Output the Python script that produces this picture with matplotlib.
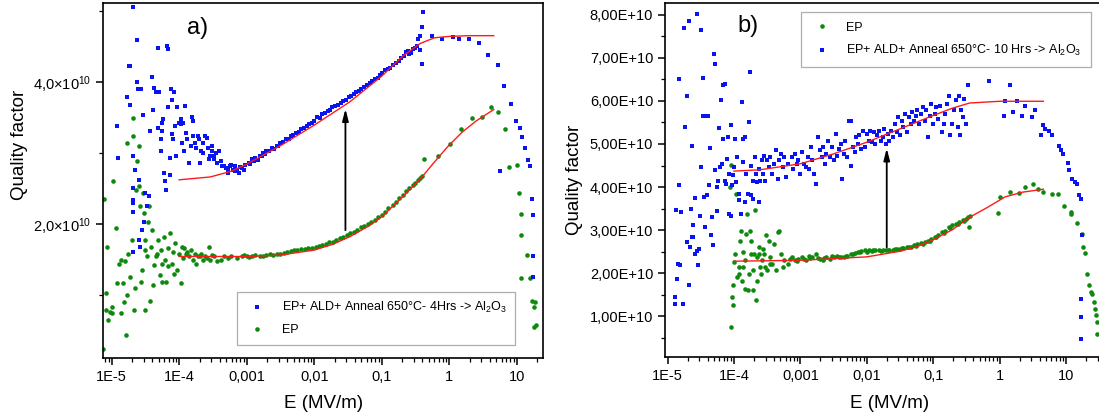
import numpy as np
import matplotlib
matplotlib.use("Agg")
import matplotlib.pyplot as plt
from matplotlib.ticker import FixedLocator, LogLocator, NullFormatter

plt.rcParams["font.family"] = ["Liberation Sans", "DejaVu Sans"]
plt.rcParams["mathtext.fontset"] = "custom"
plt.rcParams["mathtext.rm"] = "Liberation Sans"
plt.rcParams["mathtext.it"] = "Liberation Sans:italic"
plt.rcParams["mathtext.bf"] = "Liberation Sans:bold"

# -------------------------------
# Data: (log10 E [MV/m], Q / 1e10)
# -------------------------------
# panel a) EP + ALD + anneal 4 Hrs (blue squares)
a_ald = np.array([
    (-4.69, 5.05), (-4.63, 4.59), (-4.92, 3.38), (-4.90, 2.93), (-4.78, 3.79), (-4.75, 4.22),
    (-4.73, 4.22), (-4.73, 3.68), (-4.68, 2.95), (-4.66, 2.76), (-4.62, 4.00), (-4.61, 3.90),
    (-4.56, 3.90), (-4.54, 3.53), (-4.60, 2.62), (-4.68, 2.51), (-4.68, 2.34), (-4.69, 2.29),
    (-4.69, 2.17), (-4.68, 1.60), (-4.59, 1.77), (-4.58, 1.68), (-4.55, 1.92), (-4.52, 2.03),
    (-4.47, 2.25), (-4.45, 2.39), (-4.50, 2.43), (-4.43, 3.31), (-4.41, 4.07), (-4.39, 3.61),
    (-4.37, 3.92), (-4.34, 3.85), (-4.32, 4.48), (-4.30, 3.85), (-4.31, 3.35), (-4.27, 3.19),
    (-4.27, 3.02), (-4.26, 3.31), (-4.25, 3.42), (-4.24, 3.47), (-4.22, 2.72), (-4.21, 2.60),
    (-4.20, 2.48), (-4.18, 4.50), (-4.17, 4.46), (-4.16, 3.64), (-4.13, 2.93), (-4.13, 2.69),
    (-4.12, 3.90), (-4.11, 3.75), (-4.10, 3.26), (-4.09, 3.19), (-4.08, 3.85), (-4.06, 3.38),
    (-4.05, 2.95), (-4.03, 3.64), (-4.01, 3.42), (-3.98, 3.40), (-3.97, 3.47), (-3.96, 3.14),
    (-3.95, 3.42), (-3.93, 3.02), (-3.91, 3.66), (-3.90, 3.28), (-3.88, 3.19), (-3.85, 2.86),
    (-3.82, 3.09), (-3.81, 3.50), (-3.80, 3.45), (-3.79, 3.24), (-3.77, 3.14), (-3.75, 3.07),
    (-3.72, 3.24), (-3.70, 3.19), (-3.69, 2.86), (-3.67, 3.02), (-3.65, 3.00), (-3.64, 3.14),
    (-3.62, 3.24), (-3.59, 3.21), (-3.58, 3.07), (-3.56, 2.91), (-3.55, 2.95), (-3.52, 3.09),
    (-3.51, 3.02), (-3.49, 2.95), (-3.48, 2.91), (-3.46, 3.00), (-3.44, 2.86), (-3.41, 3.02),
    (-3.38, 2.88), (-3.36, 2.81), (-3.33, 2.81), (-3.31, 2.79), (-3.28, 2.72), (-3.25, 2.81),
    (-3.23, 2.83), (-3.20, 2.76), (-3.18, 2.81), (-3.15, 2.76), (-3.12, 2.72), (-3.07, 2.79),
    (-3.02, 2.83), (-2.97, 2.86), (-2.92, 2.91), (-2.87, 2.93), (-2.81, 2.95), (-2.76, 3.00),
    (-2.71, 3.02), (-2.63, 3.07), (-2.55, 3.09), (-2.50, 3.14), (-2.42, 3.19), (-2.35, 3.24),
    (-2.27, 3.28), (-2.19, 3.33), (-2.11, 3.38), (-2.04, 3.42), (-1.96, 3.50), (-1.88, 3.54),
    (-1.80, 3.59), (-1.73, 3.64), (-1.65, 3.68), (-1.57, 3.73), (-1.49, 3.78), (-1.41, 3.83),
    (-1.34, 3.87), (-1.26, 3.93), (-1.18, 3.99), (-1.10, 4.04), (-1.03, 4.09), (-0.95, 4.16),
    (-0.87, 4.20), (-0.79, 4.27), (-0.71, 4.34), (-0.64, 4.42), (-0.59, 4.39), (-0.53, 4.46),
    (-0.48, 4.51), (-0.46, 4.60), (-0.43, 4.65), (-0.41, 4.77), (-0.40, 4.25), (-0.39, 4.98),
    (-3.27, 2.77), (-3.17, 2.74), (-3.10, 2.80), (-3.04, 2.76), (-2.95, 2.84), (-2.89, 2.88),
    (-2.84, 2.90), (-2.78, 2.96), (-2.73, 2.99), (-2.67, 3.03), (-2.59, 3.05), (-2.53, 3.10),
    (-2.46, 3.15), (-2.38, 3.20), (-2.31, 3.25), (-2.23, 3.30), (-2.15, 3.35), (-2.07, 3.40),
    (-2.00, 3.45), (-1.92, 3.49), (-1.84, 3.56), (-1.76, 3.61), (-1.69, 3.66), (-1.61, 3.70),
    (-1.53, 3.75), (-1.45, 3.80), (-1.38, 3.85), (-1.30, 3.90), (-1.22, 3.96), (-1.14, 4.01),
    (-1.06, 4.06), (-0.99, 4.13), (-0.91, 4.18), (-0.83, 4.24), (-0.75, 4.30), (-0.67, 4.37),
    (-0.61, 4.43), (-0.56, 4.40), (-0.50, 4.48), (-0.44, 4.45),
    (-0.25, 4.64), (-0.11, 4.61), (0.05, 4.63), (0.14, 4.61), (0.30, 4.60), (0.44, 4.54),
    (0.57, 4.38), (0.72, 4.23), (0.81, 3.94), (0.75, 2.75), (0.91, 3.69), (0.99, 3.45),
    (1.05, 3.35), (1.08, 3.22), (1.12, 3.07), (1.17, 2.90), (1.20, 2.81), (1.23, 2.35),
    (1.24, 2.13), (1.24, 1.54), (1.24, 1.25),
])

# panel a) EP (green circles)
a_ep = np.array([
    (-5.13, 0.24), (-5.12, 2.35), (-5.09, 0.78), (-5.07, 1.68), (-5.08, 1.03), (-5.06, 0.64),
    (-5.03, 0.76), (-5.00, 0.83), (-4.99, 0.74), (-4.98, 2.61), (-4.94, 1.94), (-4.92, 1.16),
    (-4.89, 1.44), (-4.86, 1.49), (-4.86, 0.75), (-4.83, 1.17), (-4.82, 0.90), (-4.81, 1.47),
    (-4.79, 0.43), (-4.78, 3.14), (-4.77, 1.00), (-4.76, 1.58), (-4.73, 1.25), (-4.70, 1.77),
    (-4.69, 3.49), (-4.68, 3.24), (-4.67, 0.78), (-4.65, 1.09), (-4.64, 2.48), (-4.63, 2.88),
    (-4.60, 3.09), (-4.60, 2.53), (-4.58, 2.25), (-4.56, 1.18), (-4.55, 1.35), (-4.54, 2.43),
    (-4.52, 2.15), (-4.51, 1.63), (-4.50, 0.78), (-4.50, 1.77), (-4.47, 1.54), (-4.46, 2.03),
    (-4.45, 2.25), (-4.43, 0.92), (-4.42, 1.68), (-4.40, 1.92), (-4.39, 1.14), (-4.37, 1.42),
    (-4.34, 1.54), (-4.33, 1.58), (-4.32, 1.77), (-4.29, 1.28), (-4.27, 1.63), (-4.26, 1.44),
    (-4.25, 1.18), (-4.22, 1.82), (-4.21, 1.49), (-4.19, 1.18), (-4.17, 1.40), (-4.16, 1.66),
    (-4.13, 1.87), (-4.11, 1.44), (-4.09, 1.61), (-4.07, 1.30), (-4.06, 1.73), (-4.03, 1.35),
    (-4.01, 1.58), (-3.98, 1.16), (-3.96, 1.68), (-3.95, 1.52), (-3.93, 1.66), (-3.90, 1.58),
    (-3.88, 1.61), (-3.85, 1.54), (-3.82, 1.63), (-3.80, 1.49), (-3.77, 1.58), (-3.75, 1.44),
    (-3.72, 1.54), (-3.69, 1.54), (-3.67, 1.58), (-3.64, 1.49), (-3.62, 1.54), (-3.59, 1.52),
    (-3.56, 1.68), (-3.54, 1.49), (-3.51, 1.56), (-3.49, 1.54), (-3.44, 1.47), (-3.38, 1.49),
    (-3.33, 1.54), (-3.28, 1.52), (-3.23, 1.54), (-3.15, 1.52), (-3.07, 1.54), (-3.00, 1.54),
    (-2.92, 1.55), (-2.81, 1.54), (-2.71, 1.56), (-2.61, 1.56), (-2.50, 1.58), (-2.40, 1.61),
    (-2.30, 1.63), (-2.19, 1.64), (-2.09, 1.66), (-1.98, 1.67), (-1.88, 1.70), (-1.78, 1.74),
    (-1.67, 1.77), (-1.57, 1.82), (-1.47, 1.87), (-1.36, 1.92), (-1.26, 1.97), (-1.16, 2.03),
    (-1.05, 2.10), (-0.95, 2.17), (-0.84, 2.27), (-0.74, 2.36), (-0.64, 2.46), (-0.53, 2.55),
    (-0.46, 2.62), (-0.40, 2.67),
    (-3.04, 1.56), (-2.96, 1.53), (-2.87, 1.56), (-2.76, 1.55), (-2.66, 1.57), (-2.55, 1.57),
    (-2.45, 1.59), (-2.35, 1.62), (-2.25, 1.63), (-2.14, 1.65), (-2.04, 1.66), (-1.93, 1.69),
    (-1.83, 1.72), (-1.72, 1.75), (-1.62, 1.80), (-1.52, 1.84), (-1.41, 1.89), (-1.31, 1.95),
    (-1.21, 2.00), (-1.10, 2.06), (-1.00, 2.13), (-0.90, 2.22), (-0.79, 2.31), (-0.69, 2.41),
    (-0.59, 2.50), (-0.50, 2.58), (-0.43, 2.64),
    (-0.37, 2.92), (-0.17, 2.95), (0.01, 3.13), (0.17, 3.33), (0.33, 3.49), (0.48, 3.50),
    (0.62, 3.64), (0.72, 3.58), (0.82, 3.33), (0.89, 2.80), (1.00, 2.83), (1.03, 2.43),
    (1.06, 2.14), (1.07, 1.84), (1.15, 1.56), (1.06, 1.23), (1.20, 1.23), (1.23, 0.92),
    (1.25, 0.83), (1.27, 0.90), (1.25, 0.55), (1.29, 0.57),
])

# panel a) fits (red)
a_fit_ald = np.array([
    (-4.00, 2.62), (-3.54, 2.66), (-3.23, 2.74), (-3.00, 2.84), (-2.50, 3.10), (-2.00, 3.39),
    (-1.47, 3.72), (-1.00, 4.08), (-0.69, 4.36), (-0.43, 4.54), (-0.22, 4.62), (0.00, 4.64),
    (0.30, 4.65), (0.66, 4.65),
])
a_fit_ep = np.array([
    (-4.00, 1.54), (-3.00, 1.54), (-2.50, 1.56), (-2.00, 1.63), (-1.73, 1.71), (-1.47, 1.82),
    (-1.21, 1.96), (-1.00, 2.10), (-0.69, 2.38), (-0.43, 2.63), (-0.22, 2.87), (-0.02, 3.09),
    (0.19, 3.29), (0.40, 3.45), (0.66, 3.61),
])

# panel b) EP + ALD + anneal 10 Hrs (blue squares)
b_ald = np.array([
    (-4.89, 1.28), (-4.88, 1.46), (-4.86, 1.87), (-4.87, 3.46), (-4.84, 2.22), (-4.83, 6.51),
    (-4.82, 4.04), (-4.81, 2.18), (-4.79, 3.42), (-4.76, 1.29), (-4.75, 7.68), (-4.74, 5.39),
    (-4.71, 2.72), (-4.71, 6.11), (-4.68, 7.86), (-4.67, 1.72), (-4.66, 2.61), (-4.65, 3.50),
    (-4.63, 4.95), (-4.63, 2.84), (-4.62, 2.84), (-4.61, 3.11), (-4.59, 3.75), (-4.58, 2.44),
    (-4.56, 8.02), (-4.55, 2.51), (-4.54, 2.18), (-4.53, 2.57), (-4.51, 3.32), (-4.50, 4.46),
    (-4.49, 7.65), (-4.47, 6.53), (-4.46, 5.64), (-4.45, 3.77), (-4.44, 3.07), (-4.42, 5.64),
    (-4.41, 3.81), (-4.39, 5.66), (-4.37, 4.04), (-4.36, 4.91), (-4.34, 2.88), (-4.33, 3.30),
    (-4.32, 2.65), (-4.30, 7.09), (-4.29, 6.86), (-4.28, 4.40), (-4.26, 4.00), (-4.25, 3.44),
    (-4.24, 4.15), (-4.22, 5.37), (-4.21, 4.46), (-4.19, 6.01), (-4.18, 4.54), (-4.17, 5.12),
    (-4.16, 6.36), (-4.14, 6.39), (-4.13, 4.15), (-4.12, 4.08), (-4.11, 4.66), (-4.09, 5.16),
    (-4.08, 4.31), (-4.07, 3.38), (-4.05, 3.34), (-4.04, 5.45), (-4.03, 4.04), (-4.01, 4.27),
    (-4.00, 4.46), (-3.98, 5.12), (-3.97, 4.11), (-3.95, 4.69), (-3.93, 3.69), (-3.92, 3.84),
    (-3.89, 3.38), (-3.88, 5.97), (-3.87, 5.12), (-3.86, 4.58), (-3.84, 3.65), (-3.83, 5.16),
    (-3.82, 4.31), (-3.79, 3.84), (-3.77, 5.51), (-3.76, 6.66), (-3.75, 3.81), (-3.74, 4.50),
    (-3.72, 4.15), (-3.71, 3.73), (-3.68, 4.69), (-3.67, 4.31), (-3.66, 4.11), (-3.63, 4.42),
    (-3.62, 3.65), (-3.61, 4.15), (-3.58, 4.62), (-3.56, 4.31), (-3.55, 4.73), (-3.53, 4.15),
    (-3.50, 4.62), (-3.47, 4.46), (-3.45, 4.69), (-3.42, 4.31), (-3.39, 4.54), (-3.37, 4.85),
    (-3.34, 4.19), (-3.32, 4.62), (-3.29, 4.77), (-3.26, 4.46), (-3.24, 4.69), (-3.21, 4.23),
    (-3.18, 4.54), (-3.13, 4.69), (-3.11, 4.42), (-3.08, 4.77), (-3.05, 4.54), (-3.03, 4.62),
    (-3.00, 4.31), (-2.97, 4.81), (-2.95, 4.54), (-2.92, 4.46), (-2.89, 4.69), (-2.87, 4.42),
    (-2.84, 4.93), (-2.82, 4.62), (-2.79, 4.31), (-2.76, 4.08), (-2.74, 5.16), (-2.71, 4.85),
    (-2.68, 4.69), (-2.66, 4.93), (-2.63, 4.54), (-2.61, 4.77), (-2.58, 5.08), (-2.55, 4.69),
    (-2.53, 4.93), (-2.50, 4.62), (-2.47, 5.23), (-2.45, 4.73), (-2.42, 4.89), (-2.39, 5.00),
    (-2.37, 4.18), (-2.34, 4.77), (-2.32, 5.08), (-2.29, 4.69), (-2.26, 5.54), (-2.24, 4.50),
    (-2.23, 5.53), (-2.21, 4.93), (-2.18, 4.81), (-2.16, 5.16), (-2.13, 5.00), (-2.11, 5.20),
    (-2.08, 4.89), (-2.05, 5.31), (-2.03, 4.93), (-2.00, 5.23), (-1.97, 5.08), (-1.95, 5.31),
    (-1.92, 5.04), (-1.89, 5.27), (-1.87, 5.00), (-1.84, 5.20), (-1.82, 5.31), (-1.79, 5.08),
    (-1.76, 5.16), (-1.74, 5.35), (-1.71, 5.00), (-1.68, 5.23), (-1.66, 5.08), (-1.63, 5.31),
    (-1.61, 5.16), (-1.58, 5.47), (-1.55, 5.27), (-1.53, 5.62), (-1.50, 5.20), (-1.47, 5.54),
    (-1.45, 5.39), (-1.42, 5.70), (-1.39, 5.27), (-1.37, 5.62), (-1.34, 5.47), (-1.32, 5.74),
    (-1.29, 5.54), (-1.26, 5.66), (-1.24, 5.78), (-1.21, 5.47), (-1.18, 5.70), (-1.16, 5.85),
    (-1.13, 5.54), (-1.11, 5.78), (-1.08, 5.16), (-1.05, 5.66), (-1.03, 5.93), (-1.00, 5.47),
    (-0.97, 5.70), (-0.95, 5.85), (-0.92, 5.58), (-0.89, 5.89), (-0.87, 5.27), (-0.84, 5.47),
    (-0.82, 5.70), (-0.79, 5.93), (-0.76, 6.12), (-0.74, 5.20), (-0.71, 5.47), (-0.68, 5.78),
    (-0.66, 6.01), (-0.63, 5.39), (-0.61, 6.12), (-0.59, 5.20), (-0.58, 5.78), (-0.55, 5.62),
    (-0.53, 6.05), (-0.50, 5.47), (-0.47, 6.36),
    (-0.16, 6.46), (0.07, 5.66), (0.08, 5.99), (0.15, 6.36), (0.20, 5.74), (0.26, 5.99),
    (0.34, 5.66), (0.38, 5.87), (0.49, 5.62), (0.53, 5.78), (0.66, 5.45), (0.62, 5.20),
    (0.68, 5.35), (0.74, 5.31), (0.79, 5.20), (0.89, 4.95), (0.92, 4.85), (0.96, 4.77),
    (1.03, 4.56), (1.05, 4.40), (1.09, 4.19), (1.13, 4.11), (1.16, 4.08), (1.19, 3.81),
    (1.23, 3.73), (1.24, 2.88), (1.23, 1.41), (1.23, 0.98), (1.23, 0.48),
])

# panel b) EP (green circles)
b_ep = np.array([
    (-4.05, 4.52), (-4.06, 4.00), (-4.04, 0.75), (-4.03, 1.45), (-4.02, 1.26), (-4.01, 1.72),
    (-4.00, 2.26), (-3.99, 2.45), (-3.97, 3.84), (-3.95, 1.91), (-3.93, 2.14), (-3.92, 1.99),
    (-3.91, 2.76), (-3.89, 2.99), (-3.88, 1.83), (-3.87, 2.14), (-3.86, 2.49), (-3.84, 1.64),
    (-3.83, 2.30), (-3.82, 2.92), (-3.81, 3.38), (-3.79, 1.60), (-3.77, 1.99), (-3.76, 2.99),
    (-3.75, 2.45), (-3.74, 2.76), (-3.72, 1.60), (-3.71, 2.07), (-3.70, 2.45), (-3.68, 3.46),
    (-3.67, 1.37), (-3.66, 1.83), (-3.65, 2.38), (-3.63, 2.45), (-3.62, 2.61), (-3.61, 2.14),
    (-3.59, 1.99), (-3.58, 2.30), (-3.56, 2.57), (-3.55, 2.45), (-3.53, 2.14), (-3.51, 2.88),
    (-3.50, 2.07), (-3.47, 2.76), (-3.46, 2.22), (-3.45, 2.38), (-3.42, 2.22), (-3.39, 2.68),
    (-3.37, 2.07), (-3.34, 2.96), (-3.32, 2.99), (-3.29, 2.45), (-3.26, 2.14), (-3.24, 2.30),
    (-3.18, 2.22), (-3.13, 2.38), (-3.08, 2.30), (-3.03, 2.34), (-2.97, 2.38), (-2.92, 2.30),
    (-2.87, 2.41), (-2.82, 2.38), (-2.76, 2.45), (-2.71, 2.34), (-2.66, 2.30), (-2.61, 2.38),
    (-2.55, 2.34), (-2.50, 2.38), (-2.45, 2.41), (-2.39, 2.38), (-2.34, 2.38), (-2.29, 2.41),
    (-2.24, 2.44), (-2.18, 2.47), (-2.13, 2.49), (-2.08, 2.51), (-2.03, 2.53), (-1.97, 2.53),
    (-1.92, 2.51), (-1.87, 2.53), (-1.82, 2.55), (-1.76, 2.53), (-1.71, 2.53), (-1.66, 2.55),
    (-1.61, 2.55), (-1.55, 2.57), (-1.50, 2.57), (-1.45, 2.59), (-1.39, 2.61), (-1.34, 2.62),
    (-1.29, 2.65), (-1.24, 2.67), (-1.18, 2.70), (-1.13, 2.72), (-1.08, 2.76), (-1.03, 2.80),
    (-0.97, 2.84), (-0.92, 2.88), (-0.87, 2.96), (-0.82, 2.99), (-0.76, 3.07), (-0.71, 3.11),
    (-0.66, 3.15), (-0.61, 3.19), (-0.55, 3.23), (-0.50, 3.26), (-0.45, 3.34), (-0.46, 3.07),
    (-3.15, 2.33), (-3.05, 2.28), (-2.95, 2.33), (-2.85, 2.35), (-2.74, 2.36), (-2.64, 2.35),
    (-2.53, 2.39), (-2.42, 2.37), (-2.31, 2.40), (-2.21, 2.45), (-2.10, 2.50), (-2.00, 2.49),
    (-1.90, 2.53), (-1.79, 2.52), (-1.68, 2.54), (-1.58, 2.56), (-1.47, 2.58), (-1.37, 2.60),
    (-1.26, 2.63), (-1.16, 2.68), (-1.05, 2.74), (-0.95, 2.83), (-0.84, 2.93), (-0.74, 3.05),
    (-0.63, 3.14), (-0.53, 3.21), (-0.48, 3.30),
    (-0.03, 3.40), (0.00, 3.77), (0.16, 3.88), (0.30, 3.86), (0.39, 4.00), (0.50, 4.06),
    (0.58, 3.96), (0.66, 3.88), (0.79, 3.84), (0.88, 3.84), (0.97, 3.56), (1.07, 3.43),
    (1.08, 3.38), (1.16, 3.16), (1.24, 2.92), (1.26, 2.62), (1.29, 2.47), (1.32, 1.99),
    (1.34, 1.72), (1.37, 1.56), (1.39, 1.53), (1.42, 1.33), (1.44, 1.18), (1.45, 1.02),
    (1.46, 0.87), (1.47, 0.60),
])

# panel b) fits (red)
b_fit_ald = np.array([
    (-4.00, 4.37), (-3.61, 4.40), (-3.00, 4.54), (-2.50, 4.77), (-2.00, 5.04), (-1.50, 5.35),
    (-1.00, 5.66), (-0.71, 5.83), (-0.45, 5.95), (0.00, 5.99), (0.66, 5.99),
])
b_fit_ep = np.array([
    (-4.00, 2.28), (-3.00, 2.30), (-2.00, 2.38), (-1.50, 2.51), (-1.24, 2.62), (-1.00, 2.78),
    (-0.71, 3.01), (-0.45, 3.30), (-0.18, 3.53), (0.08, 3.77), (0.34, 3.88), (0.66, 3.95),
])

# arrows: (E, Q_start/1e10, Q_end/1e10)
a_arrow = (0.029, 1.91, 3.62)
b_arrow = (0.02, 2.60, 4.90)

# ticks
x_ticks = [1e-5, 1e-4, 1e-3, 1e-2, 1e-1, 1, 10]
x_tick_labels = ["1E-5", "1E-4", "0,001", "0,01", "0,1", "1", "10"]
a_yticks = [2, 4]
a_ytick_labels = ["2,0×10$^{10}$", "4,0×10$^{10}$"]
b_yticks = [1, 2, 3, 4, 5, 6, 7, 8]
b_ytick_labels = ["%d,00E+10" % v for v in b_yticks]

label_a = "EP+ ALD+ Anneal 650°C- 4Hrs -> Al$_2$O$_3$"
label_b = "EP+ ALD+ Anneal 650°C- 10 Hrs -> Al$_2$O$_3$"

BLUE = "#0a14f0"
GREEN = "#0d8a0d"
RED = "#ff1a1a"

# -------------------------------
# Figure
# -------------------------------
fig = plt.figure(figsize=(10.99, 4.18), dpi=100)
ax_a = fig.add_axes([0.0940, 0.1435, 0.4004, 0.8493])
ax_b = fig.add_axes([0.6051, 0.1452, 0.4095, 0.8476])


def style_axes(ax, xlim, ylim):
    ax.set_xscale("log")
    ax.set_xlim(*xlim)
    ax.set_ylim(*ylim)
    ax.xaxis.set_major_locator(FixedLocator(x_ticks))
    ax.set_xticklabels(x_tick_labels)
    ax.xaxis.set_minor_locator(LogLocator(base=10, subs=np.arange(2, 10), numticks=100))
    ax.xaxis.set_minor_formatter(NullFormatter())
    ax.tick_params(which="major", direction="out", length=5, width=1.1, labelsize=10.5,
                   top=False, right=False)
    ax.tick_params(which="minor", direction="out", length=3, width=0.9, top=False, right=False)
    for sp in ax.spines.values():
        sp.set_linewidth(1.2)
    ax.set_xlabel("E (MV/m)", fontsize=13.5)
    ax.set_ylabel("Quality factor", fontsize=13.5)


# ---- panel a)
ax_a.plot(10 ** a_ep[:, 0], a_ep[:, 1] * 1e10, "o", color=GREEN, ms=3.3, mew=0, label="EP")
ax_a.plot(10 ** a_ald[:, 0], a_ald[:, 1] * 1e10, "s", color=BLUE, ms=3.0, mew=0, label=label_a)
ax_a.plot(10 ** a_fit_ald[:, 0], a_fit_ald[:, 1] * 1e10, "-", color=RED, lw=1.0)
ax_a.plot(10 ** a_fit_ep[:, 0], a_fit_ep[:, 1] * 1e10, "-", color=RED, lw=1.0)
ax_a.annotate("", xy=(a_arrow[0], a_arrow[2] * 1e10), xytext=(a_arrow[0], a_arrow[1] * 1e10),
              arrowprops=dict(arrowstyle="-|>,head_width=0.18,head_length=0.7", color="black",
                              lw=1.3, shrinkA=0, shrinkB=0))
style_axes(ax_a, (10 ** -5.124, 10 ** 1.394), (0.11e10, 5.11e10))
ax_a.yaxis.set_major_locator(FixedLocator([v * 1e10 for v in a_yticks]))
ax_a.set_yticklabels(a_ytick_labels)
ax_a.yaxis.set_minor_locator(FixedLocator([1e10, 3e10, 5e10]))
ax_a.text(0.215, 0.93, "a)", transform=ax_a.transAxes, fontsize=17, ha="center", va="center")
ax_a.xaxis.set_label_coords(0.5, -0.105)
ax_a.yaxis.set_label_coords(-0.172, 0.6)

h, l = ax_a.get_legend_handles_labels()
leg = ax_a.legend([h[1], h[0]], [l[1], l[0]], loc="upper left", bbox_to_anchor=(0.303, 0.187),
                  borderaxespad=0, fontsize=9, frameon=True, fancybox=False,
                  edgecolor="#9a9a9a", handlelength=1.9, handletextpad=1.0,
                  borderpad=0.7, labelspacing=0.7, markerscale=1.0)
leg.get_frame().set_linewidth(0.9)

# ---- panel b)
ax_b.plot(10 ** b_ep[:, 0], b_ep[:, 1] * 1e10, "o", color=GREEN, ms=3.3, mew=0, label="EP")
ax_b.plot(10 ** b_ald[:, 0], b_ald[:, 1] * 1e10, "s", color=BLUE, ms=3.0, mew=0, label=label_b)
ax_b.plot(10 ** b_fit_ald[:, 0], b_fit_ald[:, 1] * 1e10, "-", color=RED, lw=1.0)
ax_b.plot(10 ** b_fit_ep[:, 0], b_fit_ep[:, 1] * 1e10, "-", color=RED, lw=1.0)
ax_b.annotate("", xy=(b_arrow[0], b_arrow[2] * 1e10), xytext=(b_arrow[0], b_arrow[1] * 1e10),
              arrowprops=dict(arrowstyle="-|>,head_width=0.18,head_length=0.7", color="black",
                              lw=1.3, shrinkA=0, shrinkB=0))
style_axes(ax_b, (10 ** -5.038, 10 ** 1.739), (0.05e10, 8.27e10))
ax_b.yaxis.set_major_locator(FixedLocator([v * 1e10 for v in b_yticks]))
ax_b.set_yticklabels(b_ytick_labels)
ax_b.yaxis.set_minor_locator(FixedLocator([v * 1e10 + 0.5e10 for v in [0] + b_yticks[:-1]]))
ax_b.text(0.185, 0.935, "b)", transform=ax_b.transAxes, fontsize=17, ha="center", va="center")
ax_b.xaxis.set_label_coords(0.5, -0.105)
ax_b.yaxis.set_label_coords(-0.182, 0.5)

leg = ax_b.legend(loc="upper left", bbox_to_anchor=(0.3016, 0.974), borderaxespad=0,
                  fontsize=9, frameon=True, fancybox=False, edgecolor="#9a9a9a",
                  handlelength=1.9, handletextpad=1.0, borderpad=0.75, labelspacing=0.75)
leg.get_frame().set_linewidth(0.9)

fig.savefig("out.png", dpi=100)
